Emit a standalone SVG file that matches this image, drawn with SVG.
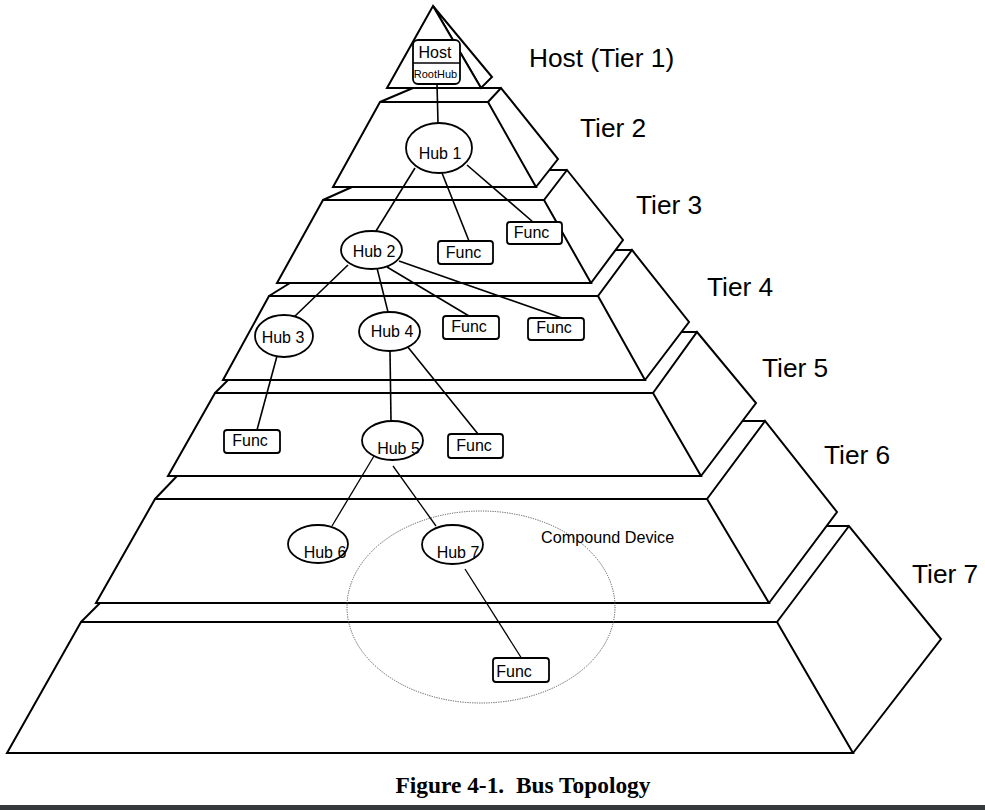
<svg xmlns="http://www.w3.org/2000/svg" width="985" height="810" viewBox="0 0 985 810">
<style>
.edge{fill:none;stroke:#000;stroke-width:2;stroke-linejoin:miter}
.face{fill:#fff;stroke:#000;stroke-width:2;stroke-linejoin:miter}
.hub{fill:#fff;stroke:#000;stroke-width:1.8}
.fn{fill:#fff;stroke:#000;stroke-width:1.8}
.con{stroke:#000;stroke-width:1.6;fill:none}
.lbl{font-family:"Liberation Sans",Arial,sans-serif;font-size:16px;fill:#000;text-anchor:middle}
.tier{font-family:"Liberation Sans",Arial,sans-serif;font-size:26.3px;fill:#000}
</style>
<rect width="985" height="810" fill="#fff"/>
<g id="pyramid">
  <g id="tier7">
    <polygon class="face" points="81,622 777,622 853,753 7,753"/>
    <polyline class="edge" points="777,622 849,526 941,639 853,753"/>
    <line class="edge" x1="826" y1="526" x2="849" y2="526"/>
    <line class="edge" x1="81" y1="622" x2="100" y2="603"/>
  </g>
  <g id="tier6">
    <polygon class="face" points="155,499 707,499 769,603 96,603"/>
    <polyline class="edge" points="707,499 765,421 837,512 769,603"/>
    <line class="edge" x1="742" y1="421" x2="765" y2="421"/>
    <line class="edge" x1="155" y1="499" x2="177" y2="476"/>
  </g>
  <g id="tier5">
    <polygon class="face" points="215,393 653,393 701,476 168,476"/>
    <polyline class="edge" points="653,393 697,332 756,403 701,476"/>
    <line class="edge" x1="681" y1="332" x2="697" y2="332"/>
    <line class="edge" x1="215" y1="393" x2="228" y2="380"/>
  </g>
  <g id="tier4">
    <polygon class="face" points="269,296 598,296 645,380 223,380"/>
    <polyline class="edge" points="598,296 632,250 689,322 645,380"/>
    <line class="edge" x1="616" y1="250" x2="632" y2="250"/>
    <line class="edge" x1="269" y1="296" x2="290" y2="283"/>
  </g>
  <g id="tier3">
    <polygon class="face" points="323,200 544,200 591,283 277,283"/>
    <polyline class="edge" points="544,200 567,170 623,240 591,283"/>
    <line class="edge" x1="549" y1="170" x2="567" y2="170"/>
    <line class="edge" x1="323" y1="200" x2="352" y2="187"/>
  </g>
  <g id="tier2">
    <polygon class="face" points="380,102 488,102 536,187 333,187"/>
    <polyline class="edge" points="488,102 501,88 558,159 536,187"/>
    <line class="edge" x1="481" y1="88" x2="501" y2="88"/>
    <line class="edge" x1="380" y1="102" x2="413" y2="88"/>
  </g>
  <g id="tier1">
    <polygon class="face" points="433,6 492,77 481,88"/>
    <polygon class="face" points="433,6 481,88 387,88"/>
  </g>
</g>
<g id="labels">
  <text class="tier" x="529" y="67">Host (Tier 1)</text>
  <text class="tier" x="580" y="137">Tier 2</text>
  <text class="tier" x="636" y="214">Tier 3</text>
  <text class="tier" x="707" y="296">Tier 4</text>
  <text class="tier" x="762" y="377">Tier 5</text>
  <text class="tier" x="824" y="464">Tier 6</text>
  <text class="tier" x="912" y="583">Tier 7</text>
</g>
<g id="compound">
  <ellipse cx="481" cy="607" rx="134" ry="96" fill="none" stroke="#555" stroke-width="1" stroke-dasharray="1.2,1.2"/>
  <text class="lbl" x="541" y="543" style="text-anchor:start;font-size:16.2px">Compound Device</text>
</g>
<g id="connectors">
  <line class="con" x1="437" y1="84" x2="438" y2="123"/>
  <line class="con" x1="415" y1="168" x2="376" y2="231"/>
  <line class="con" x1="442" y1="173" x2="469" y2="241"/>
  <line class="con" x1="467" y1="165" x2="533" y2="222"/>
  <line class="con" x1="348" y1="265" x2="294" y2="317"/>
  <line class="con" x1="377" y1="268" x2="388" y2="312"/>
  <line class="con" x1="387" y1="267" x2="469" y2="316"/>
  <line class="con" x1="399" y1="261" x2="562" y2="318"/>
  <line class="con" x1="277" y1="356" x2="257" y2="430"/>
  <line class="con" x1="390" y1="351" x2="391" y2="421"/>
  <line class="con" x1="407" y1="346" x2="478" y2="434"/>
  <line class="con" x1="377" y1="451" x2="332" y2="526" style="stroke-width:1.3"/>
  <line class="con" x1="393" y1="466" x2="436" y2="526" style="stroke-width:1.3"/>
  <line class="con" x1="465" y1="569" x2="522" y2="659" style="stroke-width:1.3"/>
</g>
<g id="host">
  <rect class="fn" x="413" y="40" width="47" height="44" rx="5"/>
  <line class="con" x1="413" y1="63" x2="460" y2="63"/>
  <text class="lbl" x="435" y="58">Host</text>
  <text class="lbl" x="435.5" y="78" style="font-size:11px">RootHub</text>
</g>
<g id="hub1"><ellipse class="hub" cx="439" cy="148" rx="33" ry="25"/><text class="lbl" x="440" y="159">Hub 1</text></g>
<g id="hub2"><ellipse class="hub" cx="371.5" cy="250" rx="30.5" ry="19"/><text class="lbl" x="374" y="257">Hub 2</text></g>
<g id="func3a"><rect class="fn" x="438" y="241" width="55" height="23" rx="3"/><text class="lbl" x="463.5" y="258">Func</text></g>
<g id="func3b"><rect class="fn" x="507" y="222" width="55" height="22" rx="3"/><text class="lbl" x="531.5" y="238">Func</text></g>
<g id="hub3"><ellipse class="hub" cx="284" cy="336" rx="29" ry="21"/><text class="lbl" x="283" y="343">Hub 3</text></g>
<g id="hub4"><ellipse class="hub" cx="389.5" cy="331.5" rx="30.5" ry="19.5"/><text class="lbl" x="392" y="337">Hub 4</text></g>
<g id="func4a"><rect class="fn" x="443" y="316" width="56" height="23" rx="3"/><text class="lbl" x="469" y="332">Func</text></g>
<g id="func4b"><rect class="fn" x="528" y="318" width="56" height="22" rx="3"/><text class="lbl" x="554" y="333">Func</text></g>
<g id="func5a"><rect class="fn" x="224" y="430" width="56" height="23" rx="3"/><text class="lbl" x="250" y="445.5">Func</text></g>
<g id="hub5"><ellipse class="hub" cx="392.5" cy="440.5" rx="30.5" ry="19.5"/><text class="lbl" x="398.5" y="454">Hub 5</text></g>
<g id="func5b"><rect class="fn" x="448" y="434" width="55" height="24" rx="3"/><text class="lbl" x="474" y="451">Func</text></g>
<g id="hub6"><ellipse class="hub" cx="318" cy="544" rx="30" ry="19"/><text class="lbl" x="325" y="558">Hub 6</text></g>
<g id="hub7"><ellipse class="hub" cx="452.5" cy="544.5" rx="30.5" ry="19.5"/><text class="lbl" x="458" y="558">Hub 7</text></g>
<g id="func7"><rect class="fn" x="493" y="658" width="56" height="24" rx="3"/><text class="lbl" x="514" y="677">Func</text></g>
<text x="523" y="793" xml:space="preserve" style="font-family:'Liberation Serif','Times New Roman',serif;font-weight:bold;font-size:23.4px;text-anchor:middle">Figure 4-1.  Bus Topology</text>
<rect x="0" y="805" width="985" height="5" fill="#36393b"/>
</svg>
